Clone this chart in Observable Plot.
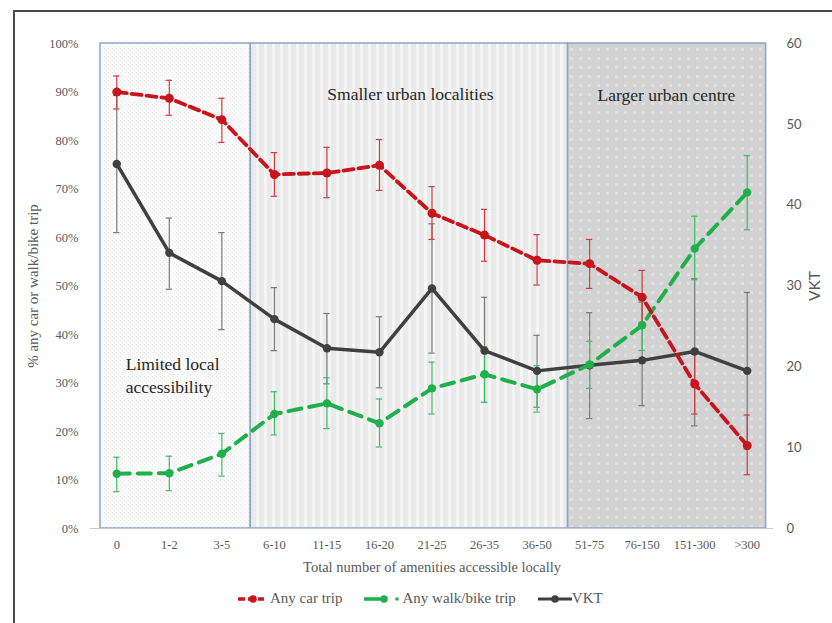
<!DOCTYPE html>
<html>
<head>
<meta charset="utf-8">
<script src="https://cdn.jsdelivr.net/npm/d3@7"></script>
<script src="https://cdn.jsdelivr.net/npm/@observablehq/plot@0.6"></script>
<style>
  html, body { margin: 0; padding: 0; background: #fff; }
  #page { position: relative; width: 832px; height: 623px; overflow: hidden; background: #fff; }
  #frame { position: absolute; left: 13px; top: 10px; width: 830px; height: 620px;
           border-top: 2px solid #4a4a4a; border-left: 2px solid #4a4a4a; box-sizing: border-box; }
  #chart { position: absolute; left: 0; top: 0; }
  #legend { position: absolute; left: 238px; top: 590px; display: flex; align-items: center;
            font-family: "Liberation Serif", serif; font-size: 15px; color: #595959; white-space: nowrap; }
  #legend .item { display: flex; align-items: center; margin-right: 22px; }
  #legend svg { margin-right: 6px; }
</style>
</head>
<body>
<div id="page">
  <div id="frame"></div>
  <div id="chart"></div>
  <div id="legend"></div>
</div>
<script>
// ---- data ----
const categories = ["0","1-2","3-5","6-10","11-15","16-20","21-25","26-35","36-50","51-75","76-150","151-300",">300"];
const carTrip   = [90.0, 88.7, 84.3, 73.0, 73.3, 74.9, 65.0, 60.5, 55.3, 54.6, 47.7, 29.8, 17.1];
const carLow    = [86.5, 85.2, 79.6, 68.5, 68.2, 69.7, 59.6, 55.1, 50.2, 49.5, 42.5, 23.6, 11.1];
const carHigh   = [93.3, 92.4, 88.7, 77.5, 78.6, 80.2, 70.5, 65.8, 60.6, 59.6, 53.2, 36.0, 23.4];
const walkTrip  = [11.3, 11.4, 15.4, 23.6, 25.8, 21.7, 28.9, 31.8, 28.7, 33.8, 41.9, 57.7, 69.3];
const walkLow   = [7.6, 7.8, 10.8, 19.3, 20.6, 16.8, 23.6, 26.0, 24.0, 28.9, 36.7, 51.3, 61.6];
const walkHigh  = [14.7, 14.9, 19.6, 28.2, 31.1, 26.7, 34.3, 37.5, 33.6, 38.6, 47.0, 64.4, 76.9];
const vkt       = [45.1, 34.1, 30.6, 25.9, 22.3, 21.8, 29.7, 22.0, 19.5, 20.2, 20.8, 21.9, 19.5];
const vktLow    = [36.6, 29.6, 24.6, 22.0, 17.9, 17.4, 21.7, 15.6, 15.0, 13.6, 15.2, 12.7, 9.8];
const vktHigh   = [53.6, 38.4, 36.6, 29.8, 26.6, 26.2, 37.7, 28.6, 23.9, 26.7, 28.0, 30.9, 29.2];
const pctTicks  = [0, 10, 20, 30, 40, 50, 60, 70, 80, 90, 100];
const vktTicks  = [0, 10, 20, 30, 40, 50, 60];
const vktMax = 60;
// shaded zones, in category-index units
const zoneNames = ["Limited local accessibility", "Smaller urban localities", "Larger urban centre"];
const zoneFrom  = [-0.31, 2.55, 8.59];
const zoneTo    = [2.55, 8.59, 12.36];
const zonePattern = ["zone1", "zone2", "zone3"];
const zoneLabelX = [0.17, 5.59, 10.46];
const zoneLabelY = [31.8, 89.6, 89.4];
const seriesNames = ["Any car trip", "Any walk/bike trip", "VKT"];

const RED = "#c8141c", GREEN = "#1fb04c", GREY = "#404040";
const SERIF = "Liberation Serif, serif";
const toPct = v => v * 100 / vktMax;

const rows = categories.map((c, i) => ({
  i, c,
  car: carTrip[i], carLo: carLow[i], carHi: carHigh[i],
  walk: walkTrip[i], walkLo: walkLow[i], walkHi: walkHigh[i],
  vkt: toPct(vkt[i]), vktLo: toPct(vktLow[i]), vktHi: toPct(vktHigh[i])
}));
const zones = zoneNames.map((n, k) => ({name: n, from: zoneFrom[k], to: zoneTo[k], pattern: zonePattern[k]}));
const CAP = 0.06;

function errorBars(lo, hi, color, width) {
  return [
    Plot.ruleX(rows, {x: "i", y1: lo, y2: hi, stroke: color, strokeWidth: width}),
    Plot.ruleY(rows, {y: lo, x1: d => d.i - CAP, x2: d => d.i + CAP, stroke: color, strokeWidth: width}),
    Plot.ruleY(rows, {y: hi, x1: d => d.i - CAP, x2: d => d.i + CAP, stroke: color, strokeWidth: width})
  ];
}

const svg = Plot.plot({
  width: 832, height: 580,
  marginLeft: 90, marginRight: 59, marginTop: 43, marginBottom: 52,
  style: {background: "transparent", fontFamily: SERIF, overflow: "visible"},
  x: {type: "linear", domain: [-0.5, 12.5], label: null},
  y: {domain: [0, 100], label: null},
  marks: [
    Plot.rect(zones, {x1: "from", x2: "to", y1: 0, y2: 100, fill: d => `url(#${d.pattern})`,
                      stroke: "#8aa6c8", strokeWidth: 1.5}),
    Plot.ruleY([0], {x1: -0.5, x2: 12.5, stroke: "#c8c8c8", strokeWidth: 1.2}),
    Plot.axisX(rows.map(d => d.i), {tickSize: 0, tickPadding: 12, tickFormat: i => categories[i],
                      fontSize: 12.5, fill: "#595959", label: null}),
    Plot.axisY(pctTicks, {anchor: "left", tickSize: 0, tickPadding: 12, tickFormat: d => d + "%",
                      fontSize: 12.5, fill: "#595959", label: null}),
    Plot.axisY(vktTicks.map(toPct), {anchor: "right", tickSize: 0, tickPadding: 13,
                      tickFormat: d => String(Math.round(d * vktMax / 100)),
                      fontFamily: "Lato, sans-serif", fontSize: 13, fill: "#595959", label: null}),
    Plot.text(["% any car or walk/bike trip"], {frameAnchor: "left", dx: -57, rotate: -90,
                      textAnchor: "middle", lineAnchor: "middle", fontSize: 15, fill: "#595959"}),
    Plot.text(["VKT"], {frameAnchor: "right", dx: 42, rotate: -90, textAnchor: "middle", lineAnchor: "middle",
                      fontFamily: "Lato, sans-serif", fontSize: 15.5, fill: "#595959"}),
    Plot.text(["Total number of amenities accessible locally"], {frameAnchor: "bottom", dy: 39,
                      textAnchor: "middle", lineAnchor: "middle", fontSize: 14.5, fill: "#595959"}),
    Plot.text(zones.slice(0, 1), {x: () => zoneLabelX[0], y: () => zoneLabelY[0],
                      text: () => "Limited local\naccessibility", textAnchor: "start", lineAnchor: "middle",
                      lineHeight: 1.3, fontSize: 17.5, fill: "#262626"}),
    Plot.text(zones.slice(1), {x: (d, k) => zoneLabelX[k + 1], y: (d, k) => zoneLabelY[k + 1], text: "name",
                      textAnchor: "middle", lineAnchor: "middle", fontSize: 17.5, fill: "#262626"}),
    ...errorBars("vktLo", "vktHi", "#7a7a7a", 1.2),
    ...errorBars("walkLo", "walkHi", "#3cbf66", 1.2),
    ...errorBars("carLo", "carHi", "#d23c3c", 1.2),
    Plot.line(rows, {x: "i", y: "vkt", stroke: GREY, strokeWidth: 3.5}),
    Plot.dot(rows, {x: "i", y: "vkt", r: 4.2, fill: GREY}),
    Plot.line(rows, {x: "i", y: "walk", stroke: GREEN, strokeWidth: 4, strokeDasharray: "13,8"}),
    Plot.dot(rows, {x: "i", y: "walk", r: 4.2, fill: GREEN}),
    Plot.line(rows, {x: "i", y: "car", stroke: RED, strokeWidth: 3.8, strokeDasharray: "10,5"}),
    Plot.dot(rows, {x: "i", y: "car", r: 4.5, fill: RED})
  ]
});

svg.insertAdjacentHTML("afterbegin", `
<defs>
  <pattern id="zone1" patternUnits="userSpaceOnUse" width="4" height="4">
    <rect width="4" height="4" fill="#fbfbfb"/>
    <rect x="0" y="0" width="1" height="1" fill="#ececec"/>
    <rect x="2" y="2" width="1" height="1" fill="#ececec"/>
  </pattern>
  <pattern id="zone2" patternUnits="userSpaceOnUse" width="8" height="8">
    <rect width="8" height="8" fill="#eaeaea"/>
    <rect x="0" width="3" height="8" fill="#f6f6f6"/>
  </pattern>
  <pattern id="zone3" patternUnits="userSpaceOnUse" width="9" height="9">
    <rect width="9" height="9" fill="#d2d2d2"/>
    <rect x="3" y="3" width="3" height="3" fill="#dfdfdf"/>
  </pattern>
</defs>`);

document.getElementById("chart").appendChild(svg);

// legend
const swatches = [
  `<svg width="26" height="10"><line x1="0" y1="5" x2="26" y2="5" stroke="${RED}" stroke-width="3.5" stroke-dasharray="7,3"/><circle cx="15" cy="5" r="3.8" fill="${RED}"/></svg>`,
  `<svg width="36" height="10"><line x1="0" y1="5" x2="22" y2="5" stroke="${GREEN}" stroke-width="3.5"/><circle cx="20" cy="5" r="3.8" fill="${GREEN}"/><circle cx="33" cy="5" r="1.8" fill="${GREEN}"/></svg>`,
  `<svg width="34" height="10"><line x1="0" y1="5" x2="34" y2="5" stroke="${GREY}" stroke-width="3"/><circle cx="17" cy="5" r="3.8" fill="${GREY}"/></svg>`
];
const legend = document.getElementById("legend");
seriesNames.forEach((name, k) => {
  const item = document.createElement("div");
  item.className = "item";
  item.innerHTML = swatches[k] + `<span>${name}</span>`;
  if (k === 1) item.querySelector("svg").style.marginRight = "2px";
  if (k === 2) item.querySelector("svg").style.marginRight = "0px";
  legend.appendChild(item);
});
</script>
</body>
</html>
